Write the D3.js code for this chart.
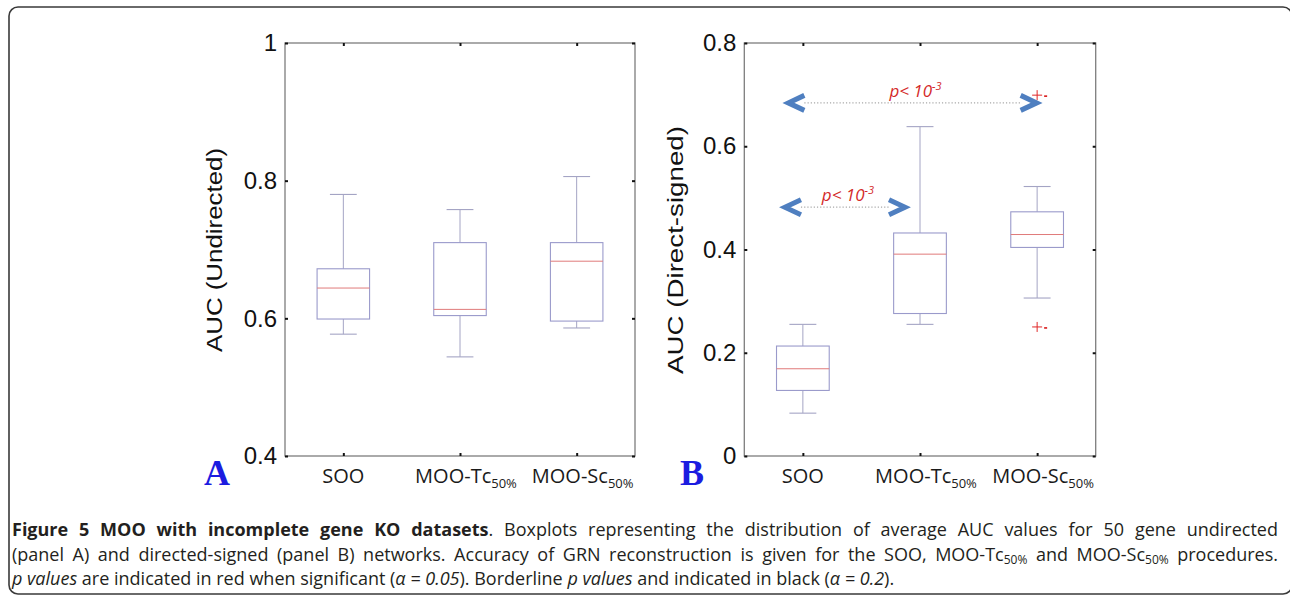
<!DOCTYPE html>
<html><head><meta charset="utf-8">
<script src="https://cdn.jsdelivr.net/npm/d3@7"></script>
<style>
html,body{margin:0;padding:0;background:#fff;}
#wrap{position:relative;width:1290px;height:596px;overflow:hidden;background:#fff;}
svg{position:absolute;left:0;top:0;}
.cap{position:absolute;left:12px;width:1266px;font-family:"Open Sans",sans-serif;font-size:18px;line-height:24.5px;color:#231f20;white-space:nowrap;}
.just{text-align:justify;text-align-last:justify;}
.cap sub{font-size:12px;vertical-align:-3px;line-height:0;}
</style></head><body><div id="wrap"></div>
<script>
// ---------- data ----------
const categories = ["SOO", "MOO-Tc", "MOO-Sc"];
const categorySubs = ["", "50%", "50%"];
// [lower whisker, Q1, median, Q3, upper whisker]
const undirectedStats = [
  [0.577, 0.599, 0.644, 0.672, 0.780],
  [0.544, 0.604, 0.613, 0.710, 0.758],
  [0.586, 0.596, 0.683, 0.710, 0.806]
];
const directedStats = [
  [0.083, 0.127, 0.169, 0.213, 0.255],
  [0.255, 0.276, 0.391, 0.432, 0.638],
  [0.306, 0.404, 0.429, 0.473, 0.522]
];
const undirectedOutliers = [[], [], []];
const directedOutliers = [[], [], [0.699, 0.250]];
const undirectedTicks = [0.4, 0.6, 0.8, 1];
const directedTicks = [0, 0.2, 0.4, 0.6, 0.8];
// significance annotations (panel B), positions in category units / AUC units
const comparisons = [
  {from: 0.876, to: 2.996, level: 0.684, label: "p< 10", exp: "-3"},
  {from: 0.847, to: 1.872, level: 0.482, label: "p< 10", exp: "-3"}
];

// ---------- drawing ----------
const W = 1290, H = 596;
const wrap = d3.select("#wrap");
const svg = wrap.append("svg").attr("width", W).attr("height", H);

// outer rounded frame
svg.append("rect").attr("x", 9).attr("y", 7).attr("width", 1283).attr("height", 587)
  .attr("rx", 9).attr("fill", "none").attr("stroke", "#3a3a3a").attr("stroke-width", 1.6);

const TOP = 43, BOT = 456;
const BOX_COL = "#9a9acb", WH_COL = "#a4a4c4", MED_COL = "#e07a7a";

function drawPanel(p) {
  const x = d3.scaleLinear().domain([0.5, 3.5]).range([p.left, p.right]);
  const y = d3.scaleLinear().domain(p.domain).range([BOT, TOP]);
  const g = svg.append("g");

  // axes box
  g.append("rect").attr("x", p.left).attr("y", TOP).attr("width", p.right - p.left).attr("height", BOT - TOP)
    .attr("fill", "none").attr("stroke", "#7d7d7d").attr("stroke-width", 1.3);

  // tick labels
  const yl = g.append("g").attr("transform", `translate(${p.left},0)`)
    .call(d3.axisLeft(y).tickValues(p.ticks).tickSize(0).tickPadding(8).tickFormat(d => String(d)));
  yl.select(".domain").remove();
  yl.attr("font-size", null).attr("font-family", null);
  yl.selectAll("text").style("font-family", "'Liberation Sans', Arial, sans-serif").style("font-size", "24px").attr("fill", "#111");

  // inward ticks
  const tickStyle = sel => { sel.select(".domain").remove(); sel.selectAll("line").attr("stroke", "#111").attr("stroke-width", 2); };
  g.append("g").attr("transform", `translate(${p.left},0)`).call(d3.axisRight(y).tickValues(p.ticks).tickSize(3).tickFormat("")).call(tickStyle);
  g.append("g").attr("transform", `translate(${p.right},0)`).call(d3.axisLeft(y).tickValues(p.ticks).tickSize(3).tickFormat("")).call(tickStyle);
  g.append("g").attr("transform", `translate(0,${TOP})`).call(d3.axisBottom(x).tickValues([1, 2, 3]).tickSize(3).tickFormat("")).call(tickStyle);
  g.append("g").attr("transform", `translate(0,${BOT})`).call(d3.axisTop(x).tickValues([1, 2, 3]).tickSize(3).tickFormat("")).call(tickStyle);

  // boxes
  const boxes = g.selectAll(".bx").data(p.stats).join("g").attr("class", "bx");
  const hw = 0.225, cw = 0.115;
  boxes.append("line").attr("x1", (d, i) => x(i + 1)).attr("x2", (d, i) => x(i + 1))
    .attr("y1", d => y(d[4])).attr("y2", d => y(d[3])).attr("stroke", WH_COL).attr("stroke-width", 1);
  boxes.append("line").attr("x1", (d, i) => x(i + 1)).attr("x2", (d, i) => x(i + 1))
    .attr("y1", d => y(d[1])).attr("y2", d => y(d[0])).attr("stroke", WH_COL).attr("stroke-width", 1);
  [0, 4].forEach(k => {
    boxes.append("line").attr("x1", (d, i) => x(i + 1 - cw)).attr("x2", (d, i) => x(i + 1 + cw))
      .attr("y1", d => y(d[k])).attr("y2", d => y(d[k])).attr("stroke", WH_COL).attr("stroke-width", 1.1);
  });
  boxes.append("rect").attr("x", (d, i) => x(i + 1 - hw)).attr("width", (d, i) => x(i + 1 + hw) - x(i + 1 - hw))
    .attr("y", d => y(d[3])).attr("height", d => y(d[1]) - y(d[3]))
    .attr("fill", "none").attr("stroke", BOX_COL).attr("stroke-width", 1.1);
  boxes.append("line").attr("x1", (d, i) => x(i + 1 - hw)).attr("x2", (d, i) => x(i + 1 + hw))
    .attr("y1", d => y(d[2])).attr("y2", d => y(d[2])).attr("stroke", MED_COL).attr("stroke-width", 1);

  // outliers
  p.outliers.forEach((arr, i) => {
    arr.forEach(v => {
      const cx = x(i + 1), cy = y(v);
      g.append("path").attr("d", `M${cx - 5},${cy}H${cx + 5}M${cx},${cy - 5}V${cy + 5}`)
        .attr("stroke", "#e02828").attr("stroke-width", 1);
      g.append("line").attr("x1", cx + 7).attr("x2", cx + 10).attr("y1", cy + 1).attr("y2", cy + 1)
        .attr("stroke", "#d81818").attr("stroke-width", 1.6);
    });
  });

  // x labels
  const xl = g.selectAll(".xl").data(categories).join("text").attr("class", "xl")
    .attr("x", (d, i) => x(i + 1) + (categorySubs[i] ? 6 : 0)).attr("y", 483)
    .attr("text-anchor", "middle").attr("font-family", "Open Sans, sans-serif").attr("font-size", 20).attr("fill", "#1a1a1a");
  xl.append("tspan").text(d => d);
  xl.append("tspan").attr("font-size", 13).attr("dy", 5).text((d, i) => categorySubs[i]);

  // y title
  g.append("text").attr("transform", `translate(${p.titleX},250) rotate(-90)`)
    .attr("text-anchor", "middle").attr("dominant-baseline", "central")
    .attr("font-family", "Liberation Sans, Arial, sans-serif").attr("font-size", 22).attr("fill", "#111")
    .attr("textLength", p.titleLen).attr("lengthAdjust", "spacingAndGlyphs").text(p.title);

  // panel letter
  g.append("text").attr("x", p.letterX).attr("y", 485).attr("font-family", "Liberation Serif, Times New Roman, serif")
    .attr("font-weight", "bold").attr("font-size", 36).attr("fill", "#1c1ce0").text(p.letter);

  return {x, y, g};
}

drawPanel({left: 285, right: 635, domain: [0.4, 1], ticks: undirectedTicks, stats: undirectedStats,
  outliers: undirectedOutliers, title: "AUC (Undirected)", titleX: 214, titleLen: 204, letter: "A", letterX: 204});
const pb = drawPanel({left: 744.3, right: 1095.7, domain: [0, 0.8], ticks: directedTicks, stats: directedStats,
  outliers: directedOutliers, title: "AUC (Direct-signed)", titleX: 675, titleLen: 248, letter: "B", letterX: 680});

// significance arrows
const ARW = "#4f7fc0";
comparisons.forEach(c => {
  const x1 = pb.x(c.from), x2 = pb.x(c.to), yy = pb.y(c.level);
  const aw = 16, ah = 7.5;
  pb.g.append("line").attr("x1", x1 + aw).attr("x2", x2 - aw).attr("y1", yy).attr("y2", yy)
    .attr("stroke", "#a8a8a8").attr("stroke-width", 1.2).attr("stroke-dasharray", "1.2,2");
  pb.g.append("path").attr("d", `M${x1 + aw},${yy - ah}L${x1},${yy}L${x1 + aw},${yy + ah}`)
    .attr("fill", "none").attr("stroke", ARW).attr("stroke-width", 5).attr("stroke-linejoin", "miter");
  pb.g.append("path").attr("d", `M${x2 - aw},${yy - ah}L${x2},${yy}L${x2 - aw},${yy + ah}`)
    .attr("fill", "none").attr("stroke", ARW).attr("stroke-width", 5).attr("stroke-linejoin", "miter");
  const t = pb.g.append("text").attr("x", (x1 + x2) / 2 + 3).attr("y", yy - 6).attr("text-anchor", "middle")
    .attr("font-family", "Open Sans, sans-serif").attr("font-style", "italic").attr("font-size", 17).attr("fill", "#d42a2a");
  t.append("tspan").text(c.label);
  t.append("tspan").attr("font-size", 11).attr("dy", -7).text(c.exp);
});

// caption
const captionLines = [
  {html: '<b>Figure 5 MOO with incomplete gene KO datasets</b>. Boxplots representing the distribution of average AUC values for 50 gene undirected', just: true},
  {html: '(panel A) and directed-signed (panel B) networks. Accuracy of GRN reconstruction is given for the SOO, MOO-Tc<sub>50%</sub> and MOO-Sc<sub>50%</sub> procedures.', just: true},
  {html: '<i>p values</i> are indicated in red when significant (<i>α = 0.05</i>). Borderline <i>p values</i> and indicated in black (<i>α = 0.2</i>).', just: false}
];
wrap.selectAll(".cap").data(captionLines).join("div")
  .attr("class", d => "cap" + (d.just ? " just" : ""))
  .style("top", (d, i) => (517 + i * 24.5) + "px")
  .html(d => d.html);
</script>
</body></html>
